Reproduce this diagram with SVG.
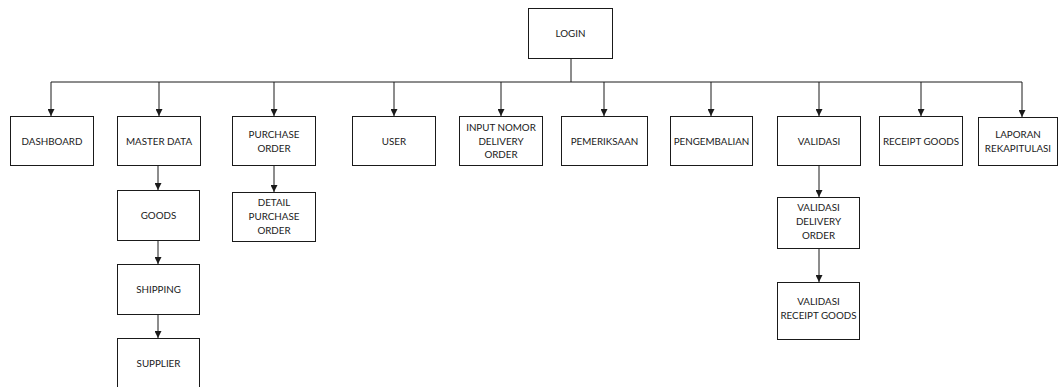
<svg xmlns="http://www.w3.org/2000/svg" width="1059" height="387" viewBox="0 0 1059 387">
  <style>
    .box { fill: #ffffff; stroke: #1a1a1a; stroke-width: 1; }
    .lbl { font-family: Lato, "Open Sans", "Liberation Sans", sans-serif; font-size: 9.8px; fill: #1a1a1a; text-anchor: middle; }
    .wire { fill: none; stroke: #1a1a1a; stroke-width: 1; }
  </style>
  <defs>
    <marker id="arrow" viewBox="0 0 10 10" refX="10" refY="5" markerWidth="7" markerHeight="7" markerUnits="userSpaceOnUse" orient="auto">
      <path d="M0,0 L10,5 L0,10 z" fill="#1a1a1a"/>
    </marker>
  </defs>
  <rect width="1059" height="387" fill="#ffffff"/>

  <g id="connectors">
    <path class="wire" d="M571,58 V82 M51,82 H1022"/>
    <path class="wire" marker-end="url(#arrow)" d="M51,82 V116"/>
    <path class="wire" marker-end="url(#arrow)" d="M159,82 V116"/>
    <path class="wire" marker-end="url(#arrow)" d="M274,82 V116"/>
    <path class="wire" marker-end="url(#arrow)" d="M394,82 V116"/>
    <path class="wire" marker-end="url(#arrow)" d="M501,82 V116"/>
    <path class="wire" marker-end="url(#arrow)" d="M604,82 V116"/>
    <path class="wire" marker-end="url(#arrow)" d="M711,82 V116"/>
    <path class="wire" marker-end="url(#arrow)" d="M819,82 V116"/>
    <path class="wire" marker-end="url(#arrow)" d="M921,82 V116"/>
    <path class="wire" marker-end="url(#arrow)" d="M1022,82 V117"/>
    <path class="wire" marker-end="url(#arrow)" d="M158,165 V190"/>
    <path class="wire" marker-end="url(#arrow)" d="M158,240 V264"/>
    <path class="wire" marker-end="url(#arrow)" d="M158,314 V338"/>
    <path class="wire" marker-end="url(#arrow)" d="M274,165 V192"/>
    <path class="wire" marker-end="url(#arrow)" d="M819,165 V197"/>
    <path class="wire" marker-end="url(#arrow)" d="M819,248 V282"/>
  </g>

  <g id="login">
    <rect class="box" x="528.5" y="8.5" width="84" height="50"/>
    <text class="lbl" x="570.5" y="37">LOGIN</text>
  </g>
  <g id="dashboard">
    <rect class="box" x="10.5" y="116.5" width="83" height="49"/>
    <text class="lbl" x="52" y="145">DASHBOARD</text>
  </g>
  <g id="master-data">
    <rect class="box" x="117.5" y="116.5" width="83" height="49"/>
    <text class="lbl" x="159" y="145">MASTER DATA</text>
  </g>
  <g id="purchase-order">
    <rect class="box" x="232.5" y="116.5" width="83" height="49"/>
    <text class="lbl" x="274" y="138">PURCHASE</text>
    <text class="lbl" x="274" y="151.5">ORDER</text>
  </g>
  <g id="user">
    <rect class="box" x="352.5" y="116.5" width="83" height="49"/>
    <text class="lbl" x="394" y="145">USER</text>
  </g>
  <g id="input-nomor-delivery-order">
    <rect class="box" x="459.5" y="116.5" width="83" height="49"/>
    <text class="lbl" x="501" y="131">INPUT NOMOR</text>
    <text class="lbl" x="501" y="144.5">DELIVERY</text>
    <text class="lbl" x="501" y="158">ORDER</text>
  </g>
  <g id="pemeriksaan">
    <rect class="box" x="561.5" y="116.5" width="86" height="49"/>
    <text class="lbl" x="604.5" y="145">PEMERIKSAAN</text>
  </g>
  <g id="pengembalian">
    <rect class="box" x="670.5" y="116.5" width="82" height="49"/>
    <text class="lbl" x="711.5" y="145">PENGEMBALIAN</text>
  </g>
  <g id="validasi">
    <rect class="box" x="777.5" y="116.5" width="83" height="49"/>
    <text class="lbl" x="819" y="145">VALIDASI</text>
  </g>
  <g id="receipt-goods">
    <rect class="box" x="879.5" y="116.5" width="83" height="49"/>
    <text class="lbl" x="921" y="145">RECEIPT GOODS</text>
  </g>
  <g id="laporan-rekapitulasi">
    <rect class="box" x="978.5" y="117.5" width="79" height="48"/>
    <text class="lbl" x="1018" y="138">LAPORAN</text>
    <text class="lbl" x="1018" y="151.5">REKAPITULASI</text>
  </g>
  <g id="goods">
    <rect class="box" x="117.5" y="190.5" width="82" height="50"/>
    <text class="lbl" x="158.5" y="219">GOODS</text>
  </g>
  <g id="shipping">
    <rect class="box" x="117.5" y="264.5" width="82" height="50"/>
    <text class="lbl" x="158.5" y="293">SHIPPING</text>
  </g>
  <g id="supplier">
    <rect class="box" x="117.5" y="338.5" width="82" height="55"/>
    <text class="lbl" x="158.5" y="367">SUPPLIER</text>
  </g>
  <g id="detail-purchase-order">
    <rect class="box" x="232.5" y="192.5" width="83" height="49"/>
    <text class="lbl" x="274" y="206">DETAIL</text>
    <text class="lbl" x="274" y="220">PURCHASE</text>
    <text class="lbl" x="274" y="234">ORDER</text>
  </g>
  <g id="validasi-delivery-order">
    <rect class="box" x="777.5" y="197.5" width="82" height="51"/>
    <text class="lbl" x="818.5" y="211">VALIDASI</text>
    <text class="lbl" x="818.5" y="225">DELIVERY</text>
    <text class="lbl" x="818.5" y="239">ORDER</text>
  </g>
  <g id="validasi-receipt-goods">
    <rect class="box" x="777.5" y="282.5" width="82" height="57"/>
    <text class="lbl" x="818.5" y="305">VALIDASI</text>
    <text class="lbl" x="818.5" y="318.5">RECEIPT GOODS</text>
  </g>
</svg>
